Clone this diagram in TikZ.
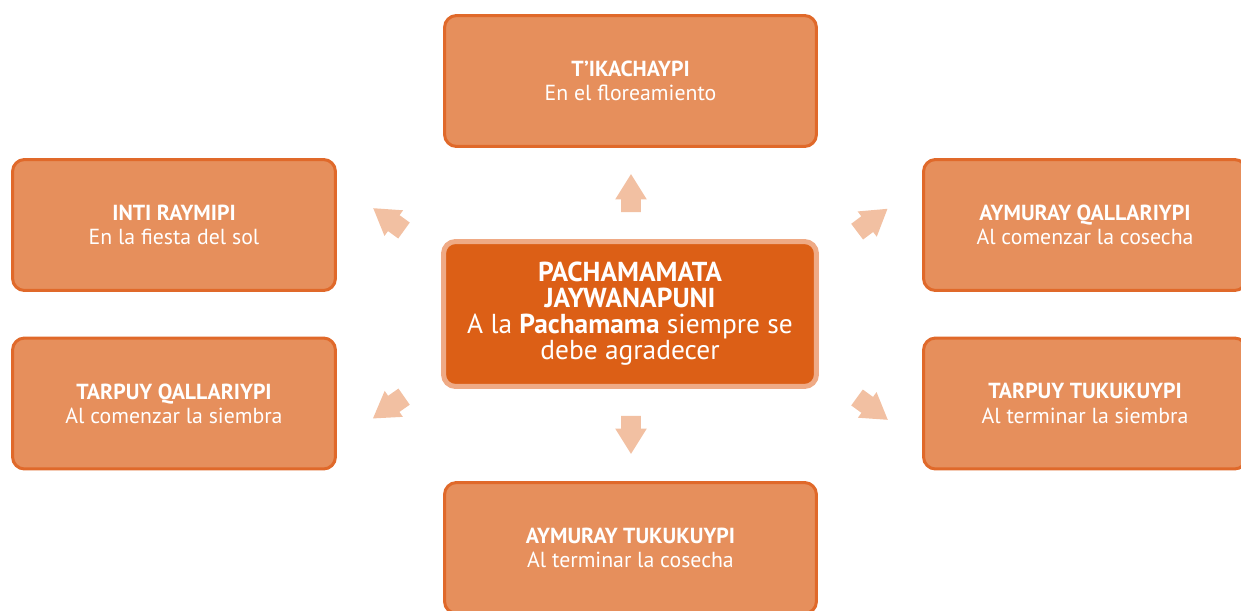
\documentclass[tikz,border=0pt]{standalone}
\usepackage{fontspec}
\setmainfont{PT Sans}
\usepackage{xcolor}
\usetikzlibrary{shapes,arrows,positioning}

\definecolor{boxfill}{HTML}{E68F5C}
\definecolor{boxline}{HTML}{E0692A}
\definecolor{corefill}{HTML}{DC5F16}
\definecolor{coreline}{HTML}{EFAA85}
\definecolor{arrowfill}{HTML}{F2C0A2}

\begin{document}
\begin{tikzpicture}[
        x=0.02cm, y=0.02cm,
        every node/.style={font=\fontsize{12.4}{13.8}\selectfont, text=white},
        stage/.style={draw=boxline, fill=boxfill, line width=0.06cm, rounded corners=0.24cm, minimum width=6.46cm, minimum height=2.62cm, align=center},
        core/.style={draw=coreline, fill=corefill, line width=0.1cm, rounded corners=0.24cm, minimum width=7.46cm, minimum height=2.9cm, align=center, font=\fontsize{15.6}{14.8}\selectfont},
        flow/.style={single arrow, fill=arrowfill, draw=none, inner xsep=0pt, inner ysep=0.19cm, single arrow head extend=0.12cm, single arrow tip angle=64, minimum height=0.76cm},
    ]
        \useasboundingbox (0,0) rectangle (1241,610);

        % Centre
        \node (pacha) [core] at (630,296) {\textbf{PACHAMAMATA}\\\textbf{JAYWANAPUNI}\\A la \textbf{Pachamama} siempre se\\debe agradecer};

        % Stages round the centre
        \node (tikachay) [stage, minimum width=7.44cm] at (630.5,529) {\textbf{T’IKACHAYPI}\\En el floreamiento};
        \node (inti) [stage] at (174,385) {\textbf{INTI RAYMIPI}\\En la fiesta del sol};
        \node (tarpuyq) [stage] at (174,206.5) {\textbf{TARPUY QALLARIYPI}\\Al comenzar la siembra};
        \node (aymurayq) [stage] at (1085,385) {\textbf{AYMURAY QALLARIYPI}\\Al comenzar la cosecha};
        \node (tarpuyt) [stage] at (1085,206.5) {\textbf{TARPUY TUKUKUYPI}\\Al terminar la siembra};
        \node (aymurayt) [stage, minimum width=7.44cm] at (630.5,62) {\textbf{AYMURAY TUKUKUYPI}\\Al terminar la cosecha};

        % Block arrows
        \node (up) [flow, rotate=90] at (631,409) {};
        \node (down) [flow, rotate=-90] at (631,183) {};
        \node (upleft) [flow, rotate=144] at (395,386) {};
        \node (downleft) [flow, rotate=215] at (395,207) {};
        \node (upright) [flow, rotate=37] at (866,385) {};
        \node (downright) [flow, rotate=-36] at (866,206) {};

    \end{tikzpicture}
\end{document}
